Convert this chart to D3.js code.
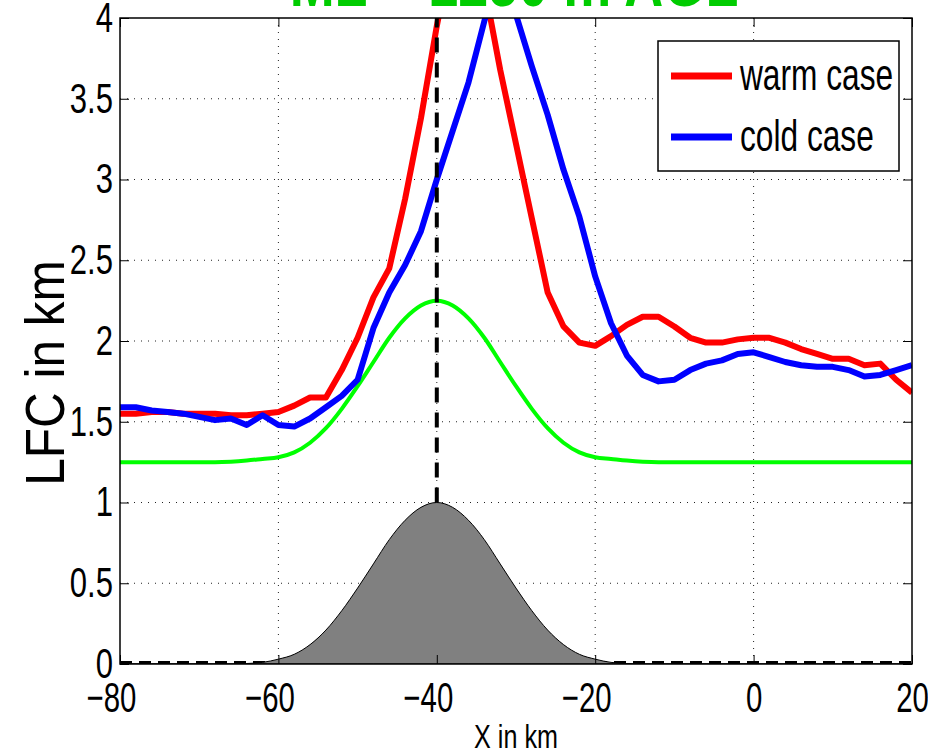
<!DOCTYPE html>
<html>
<head>
<meta charset="utf-8">
<script src="https://cdn.jsdelivr.net/npm/d3@7"></script>
<style>
  body { margin: 0; background: #fff; }
  text { font-family: "Liberation Sans", Arial, Helvetica, sans-serif; }
</style>
</head>
<body>
<div id="chart"></div>
<script>
// x positions (km), 2 km spacing
var xKm = [-80,-78,-76,-74,-72,-70,-68,-66,-64,-62,-60,-58,-56,-54,-52,-50,-48,-46,-44,-42,-40,
           -38,-36,-34,-32,-30,-28,-26,-24,-22,-20,-18,-16,-14,-12,-10,-8,-6,-4,-2,0,
           2,4,6,8,10,12,14,16,18,20];

// LFC, warm case (km)
var warmLFC = [1.55,1.55,1.56,1.56,1.55,1.55,1.55,1.54,1.54,1.55,1.56,1.60,1.65,1.65,1.82,2.02,2.27,2.45,2.88,3.38,3.95,
               4.45,4.55,4.20,3.68,3.22,2.76,2.30,2.09,1.99,1.97,2.03,2.10,2.15,2.15,2.09,2.02,1.99,1.99,2.01,2.02,
               2.02,1.99,1.95,1.92,1.89,1.89,1.85,1.86,1.76,1.68];

// LFC, cold case (km)
var coldLFC = [1.59,1.59,1.57,1.56,1.55,1.53,1.51,1.52,1.48,1.54,1.48,1.47,1.52,1.59,1.66,1.76,2.08,2.30,2.47,2.68,3.00,
               3.30,3.60,3.98,4.30,4.02,3.70,3.40,3.06,2.77,2.40,2.11,1.91,1.79,1.75,1.76,1.82,1.86,1.88,1.92,1.93,
               1.90,1.87,1.85,1.84,1.84,1.82,1.78,1.79,1.82,1.85];

// green reference curve (km)
var greenLine = [1.25,1.25,1.25,1.25,1.25,1.25,1.25,1.253,1.26,1.27,1.28,1.31,1.37,1.46,1.58,1.72,1.87,2.02,2.14,2.22,2.25,
                 2.22,2.14,2.02,1.87,1.72,1.58,1.46,1.37,1.31,1.28,1.27,1.26,1.253,1.25,1.25,1.25,1.25,1.25,1.25,1.25,
                 1.25,1.25,1.25,1.25,1.25,1.25,1.25,1.25,1.25,1.25];

// terrain height (km)
var terrain = [0,0,0,0,0,0,0,0,0.003,0.01,0.03,0.06,0.12,0.21,0.33,0.47,0.62,0.77,0.89,0.97,1.0,
               0.97,0.89,0.77,0.62,0.47,0.33,0.21,0.12,0.06,0.03,0.01,0.003,0,0,0,0,0,0,0,0,
               0,0,0,0,0,0,0,0,0,0];

var peakX = -40;
var xTicks = [-80,-60,-40,-20,0,20];
var yTicks = [0,0.5,1,1.5,2,2.5,3,3.5,4];
var legendNames = ["warm case", "cold case"];
var legendColors = ["#ff0000", "#0000ff"];
var titleText = "ML = 1250 m AGL";

var w = 928, h = 753;
var pLeft = 120, pRight = 912, pTop = 18, pBottom = 664;
var squeeze = 0.74;

var svg = d3.select("#chart").append("svg")
  .attr("width", w).attr("height", h)
  .style("background", "#fff");

var xScale = d3.scaleLinear().domain([-80, 20]).range([pLeft, pRight]);
var yScale = d3.scaleLinear().domain([0, 4]).range([pBottom, pTop]);

svg.append("clipPath").attr("id", "plotclip")
  .append("rect")
  .attr("x", pLeft).attr("y", pTop)
  .attr("width", pRight - pLeft).attr("height", pBottom - pTop);

// grid (dotted)
var grid = svg.append("g");
grid.selectAll(".gx").data(xTicks.slice(1, -1)).enter().append("line")
  .attr("x1", d => xScale(d)).attr("x2", d => xScale(d))
  .attr("y1", pTop).attr("y2", pBottom)
  .attr("stroke", "#222").attr("stroke-width", 1).attr("stroke-dasharray", "1,6");
grid.selectAll(".gy").data(yTicks.slice(1, -1)).enter().append("line")
  .attr("x1", pLeft).attr("x2", pRight)
  .attr("y1", d => yScale(d)).attr("y2", d => yScale(d))
  .attr("stroke", "#222").attr("stroke-width", 1).attr("stroke-dasharray", "1,6");

var plot = svg.append("g").attr("clip-path", "url(#plotclip)");

var pts = function(vals) { return xKm.map((x, i) => [x, vals[i]]); };

// dashed zero line
plot.append("line")
  .attr("x1", xScale(-80)).attr("x2", xScale(20))
  .attr("y1", yScale(0) - 1.5).attr("y2", yScale(0) - 1.5)
  .attr("stroke", "#000").attr("stroke-width", 3).attr("stroke-dasharray", "12,7");

// terrain
var area = d3.area()
  .x(d => xScale(d[0])).y0(yScale(0)).y1(d => yScale(d[1]))
  .curve(d3.curveMonotoneX);
plot.append("path").datum(pts(terrain))
  .attr("d", area).attr("fill", "#808080").attr("stroke", "#000").attr("stroke-width", 1);

var line = d3.line().x(d => xScale(d[0])).y(d => yScale(d[1]));

plot.append("path").datum(pts(greenLine))
  .attr("d", line.curve(d3.curveMonotoneX))
  .attr("fill", "none").attr("stroke", "#00ff00").attr("stroke-width", 4);

line.curve(d3.curveLinear);
plot.append("path").datum(pts(warmLFC))
  .attr("d", line).attr("fill", "none").attr("stroke", legendColors[0])
  .attr("stroke-width", 6).attr("stroke-linejoin", "round");
plot.append("path").datum(pts(coldLFC))
  .attr("d", line).attr("fill", "none").attr("stroke", legendColors[1])
  .attr("stroke-width", 6).attr("stroke-linejoin", "round");

// vertical dashed line at the peak
plot.append("line")
  .attr("x1", xScale(peakX)).attr("x2", xScale(peakX))
  .attr("y1", yScale(1)).attr("y2", yScale(4))
  .attr("stroke", "#000").attr("stroke-width", 4).attr("stroke-dasharray", "15,10");

// axes
var fmt = d => d < 0 ? "\u2212" + Math.abs(d) : String(d);

var xAxis = svg.append("g")
  .attr("transform", "translate(0," + pBottom + ")")
  .call(d3.axisBottom(xScale).tickValues(xTicks).tickSize(-9).tickFormat(fmt));
var yAxis = svg.append("g")
  .attr("transform", "translate(" + pLeft + ",0)")
  .call(d3.axisLeft(yScale).tickValues(yTicks).tickSize(-9).tickFormat(d3.format("")));
var xTop = svg.append("g")
  .attr("transform", "translate(0," + pTop + ")")
  .call(d3.axisTop(xScale).tickValues(xTicks).tickSize(-9).tickFormat(""));
var yRight = svg.append("g")
  .attr("transform", "translate(" + pRight + ",0)")
  .call(d3.axisRight(yScale).tickValues(yTicks).tickSize(-9).tickFormat(""));

[xAxis, yAxis, xTop, yRight].forEach(function(g) {
  g.select(".domain").remove();
  g.selectAll(".tick line").attr("stroke", "#000").attr("stroke-width", 1);
});

// x labels: digits centred on the tick, minus sign hangs to the left
var xSq = 0.70;
xAxis.selectAll("text")
  .attr("font-size", 42).attr("fill", "#000")
  .attr("y", 18)
  .attr("x", d => d < 0 ? -9 / xSq : 0)
  .attr("transform", "scale(" + xSq + ",1)");
yAxis.selectAll("text")
  .attr("font-size", 42).attr("fill", "#000")
  .attr("x", -7 / squeeze)
  .attr("transform", "scale(" + squeeze + ",1)");

// frame
svg.append("rect")
  .attr("x", pLeft).attr("y", pTop)
  .attr("width", pRight - pLeft).attr("height", pBottom - pTop)
  .attr("fill", "none").attr("stroke", "#000").attr("stroke-width", 1.5);

// axis labels
svg.append("text")
  .attr("transform", "translate(516,748) scale(" + squeeze + ",1)")
  .attr("text-anchor", "middle").attr("font-size", 34)
  .text("X in km");

svg.append("text")
  .attr("transform", "translate(64,373) rotate(-90) scale(0.9,1)")
  .attr("text-anchor", "middle").attr("font-size", 55)
  .text("LFC in km");

// title (mostly cut off at the top)
svg.append("text")
  .attr("transform", "translate(514,6) scale(" + squeeze + ",1)")
  .attr("text-anchor", "middle").attr("font-size", 73).attr("font-weight", "bold")
  .attr("fill", "#00cc00")
  .text(titleText);

// legend
var lg = svg.append("g");
lg.append("rect")
  .attr("x", 658).attr("y", 41).attr("width", 241).attr("height", 130)
  .attr("fill", "#fff").attr("stroke", "#000").attr("stroke-width", 1.5);
legendNames.forEach(function(name, i) {
  var yy = 76 + i * 61;
  lg.append("line")
    .attr("x1", 671).attr("x2", 732).attr("y1", yy).attr("y2", yy)
    .attr("stroke", legendColors[i]).attr("stroke-width", 7);
  lg.append("text")
    .attr("transform", "translate(740," + (yy + 14) + ") scale(0.72,1)")
    .attr("font-size", 44)
    .text(name);
});
</script>
</body>
</html>
